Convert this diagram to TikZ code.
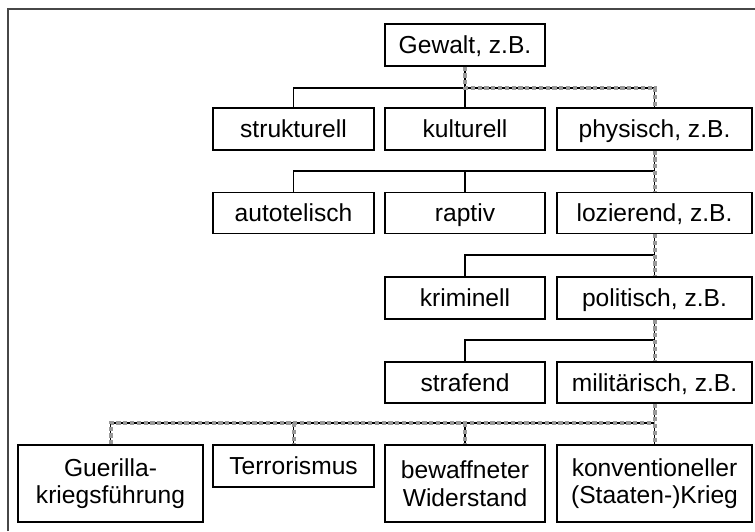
\documentclass[tikz,border=0pt]{standalone}
\usepackage{fontspec}
\setmainfont{Liberation Sans}
\begin{document}
\begin{tikzpicture}[x=1pt,y=-1pt,
  box/.style={draw=black, line width=1.3pt, inner sep=0pt, align=center,
    font=\fontsize{24.6}{27.5}\selectfont},
  one/.style={text height=17.6pt, text depth=0pt},
  conn/.style={draw=black, line width=1.2pt},
  hlgrey/.style={draw=black!40, line width=4pt, line cap=butt, dash pattern=on 4.2pt off 2.6pt},
  frame/.style={draw=black!72, line width=1.8pt}]
\useasboundingbox (0,0) rectangle (755,531);
\draw[frame] (8,531) -- (8,9) -- (755,9);
% columns: A 18-203, B 213-374, C 385-545, D 557-752
\node[box,one,minimum width=160pt,minimum height=42pt] (G) at (465,45) {Gewalt, z.B.};
\node[box,one,minimum width=161pt,minimum height=42pt] (B1) at (293.5,129) {strukturell};
\node[box,one,minimum width=160pt,minimum height=42pt] (C1) at (465,129) {kulturell};
\node[box,one,minimum width=195pt,minimum height=42pt] (D1) at (654.5,129) {physisch, z.B.};
\node[box,one,minimum width=161pt,minimum height=41pt] (B2) at (293.5,213) {autotelisch};
\node[box,one,minimum width=160pt,minimum height=41pt] (C2) at (465,213) {raptiv};
\node[box,one,minimum width=195pt,minimum height=41pt] (D2) at (654.5,213) {lozierend, z.B.};
\node[box,one,minimum width=160pt,minimum height=42pt] (C3) at (465,298) {kriminell};
\node[box,one,minimum width=195pt,minimum height=42pt] (D3) at (654.5,298) {politisch, z.B.};
\node[box,one,minimum width=160pt,minimum height=41pt] (C4) at (465,382.5) {strafend};
\node[box,one,minimum width=195pt,minimum height=41pt] (D4) at (654.5,382.5) {militärisch, z.B.};
\node[box,minimum width=185pt,minimum height=77pt] (A5) at (110.5,483.5) {Guerilla-\\kriegsführung};
\node[box,one,minimum width=161pt,minimum height=42pt] (B5) at (293.5,466) {Terrorismus};
\node[box,minimum width=160pt,minimum height=77pt] (C5) at (465,483.5) {bewaffneter\\Widerstand};
\node[box,minimum width=195pt,minimum height=77pt] (D5) at (654.5,483.5) {konventioneller\\(Staaten-)Krieg};
% bus levels
\coordinate (bus1) at (0,88);
\coordinate (bus2) at (0,171);
\coordinate (bus3) at (0,255);
\coordinate (bus4) at (0,340);
\coordinate (bus5) at (0,423);
% plain black connectors (including highlighted routes)
\draw[conn] (B1.north) -- (B1.north|-bus1) -- (D1.north|-bus1) -- (D1.north);
\draw[conn] (G.south) -- (C1.north);
\draw[conn] (B2.north) -- (B2.north|-bus2) -- (D2.north|-bus2);
\draw[conn] (C2.north) -- (C2.north|-bus2);
\draw[conn] (D1.south) -- (D2.north);
\draw[conn] (C3.north) -- (C3.north|-bus3) -- (D3.north|-bus3);
\draw[conn] (D2.south) -- (D3.north);
\draw[conn] (C4.north) -- (C4.north|-bus4) -- (D4.north|-bus4);
\draw[conn] (D3.south) -- (D4.north);
\draw[conn] (A5.north) -- (A5.north|-bus5) -- (D5.north|-bus5);
\draw[conn] (B5.north|-bus5) -- (B5.north);
\draw[conn] (C5.north|-bus5) -- (C5.north);
\draw[conn] (D4.south) -- (D5.north);
% grey dashed highlight over the route
\draw[hlgrey] (G.south) -- (G.south|-bus1) -- (D1.north|-bus1) -- (D1.north);
\draw[hlgrey] (D1.south) -- (D2.north);
\draw[hlgrey] (D2.south) -- (D3.north);
\draw[hlgrey] (D3.south) -- (D4.north);
\draw[hlgrey] (D4.south) -- (D5.north);
\draw[hlgrey] (A5.north) -- (A5.north|-bus5) -- (D5.north|-bus5);
\draw[hlgrey] (B5.north|-bus5) -- (B5.north);
\draw[hlgrey] (C5.north|-bus5) -- (C5.north);
\end{tikzpicture}
\end{document}
